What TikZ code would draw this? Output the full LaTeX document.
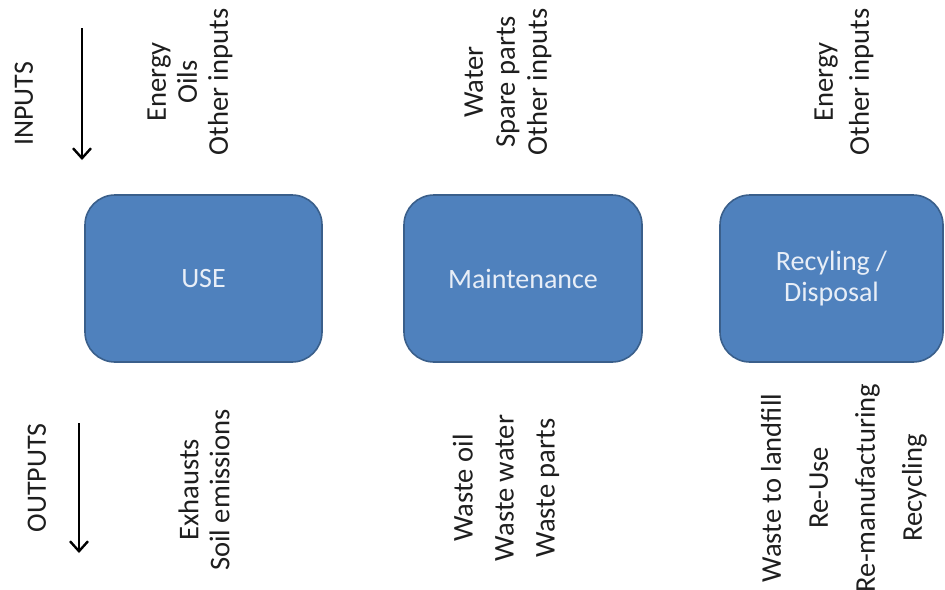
\documentclass[tikz,border=0pt]{standalone}
\usepackage{fontspec}
\setmainfont{Carlito}
\usepackage{tikz}
\usetikzlibrary{arrows.meta}
\definecolor{boxblue}{HTML}{4F81BD}
\definecolor{boxline}{HTML}{3A5F8B}
\definecolor{boxtext}{HTML}{E8EEF7}
\definecolor{sidetext}{HTML}{1E1E1E}

\begin{document}
\begin{tikzpicture}[x=0.5pt,y=-0.5pt]
		\useasboundingbox (0,0) rectangle (945,589);

		\begin{scope}[every node/.style={rectangle,rounded corners=15pt,draw=boxline,line width=0.8pt,
		              fill=boxblue,text=boxtext,minimum height=83.5pt,inner sep=0pt,
		              align=center,font=\fontsize{14}{15.5}\selectfont}]
		    \node[minimum width=118.5pt] (use) at (203.5,278.5) {USE};
		    \node[minimum width=119pt] (maint) at (523,278.5) {Maintenance};
		    \node[minimum width=111.5pt] (recyc) at (831.5,278.5) {Recyling /\\Disposal};
		\end{scope}

		\begin{scope}[every node/.style={rotate=90,align=center,text=sidetext,inner sep=0pt}]
		    \node[font=\fontsize{14}{15.5}\selectfont] (inlab) at (24,104) {INPUTS};
		    \node[font=\fontsize{14}{15.5}\selectfont] (outlab) at (37,478) {OUTPUTS};
		    \node[font=\fontsize{14.3}{15.5}\selectfont] (usein) at (190,82) {Energy\\Oils\\Other inputs};
		    \node[font=\fontsize{14.3}{15.5}\selectfont] (useout) at (204,490) {Exhausts\\Soil emissions};
		    \node[font=\fontsize{14.3}{16}\selectfont] (maintin) at (508,82) {Water\\Spare parts\\Other inputs};
		    \node[font=\fontsize{14.3}{20.5}\selectfont] (maintout) at (506,488) {Waste oil\\Waste water\\Waste parts};
		    \node[font=\fontsize{14.3}{18}\selectfont] (recycin) at (844,82) {Energy\\Other inputs};
		    \node[font=\fontsize{14.3}{23.5}\selectfont] (recycout) at (844,488) {Waste to landfill\\Re-Use\\Re-manufacturing\\Recycling};
		\end{scope}

		\coordinate (instart) at (82,28);
		\coordinate (inend) at (82,160);
		\coordinate (outstart) at (79,423);
		\coordinate (outend) at (79,553);

		\begin{scope}[>={Straight Barb[length=5pt,width=9pt]},
		              every edge/.style={draw=black,line width=1.2pt}]
		    \path (instart) edge[->] (inend);
		    \path (outstart) edge[->] (outend);
		\end{scope}
\end{tikzpicture}
\end{document}
